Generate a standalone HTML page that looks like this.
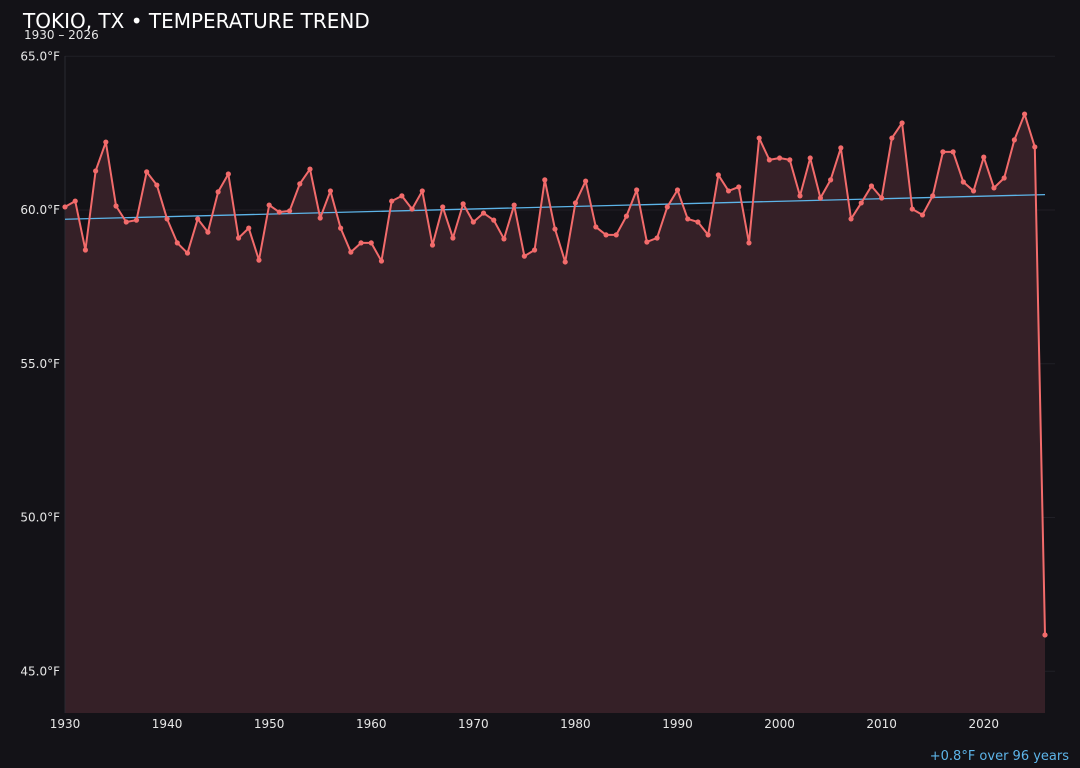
<!DOCTYPE html>
<html><head><meta charset="utf-8"><style>
html,body{margin:0;padding:0;background:#131217;}
svg{display:block;font-family:"DejaVu Sans","Liberation Sans",sans-serif;}
</style></head><body>
<svg id="chart" width="1080" height="768">
<rect width="1080" height="768" fill="#131217"/>
<text x="23" y="28" fill="#ffffff" font-size="20">TOKIO, TX • TEMPERATURE TREND</text>
<text x="24" y="39" fill="#e6e6e6" font-size="12">1930 – 2026</text>
<text x="1069" y="760" fill="#5db4e8" font-size="13" text-anchor="end">+0.8°F over 96 years</text>
<g id="grid"></g><g id="area"></g><g id="axes"></g><g id="marks"></g>
</svg>
<script>
const years = [];
for (let y = 1930; y <= 2026; y++) years.push(y);
const temps = [60.10,60.29,58.70,61.27,62.21,60.13,59.61,59.67,61.24,60.81,
59.71,58.93,58.60,59.71,59.28,60.59,61.17,59.09,59.41,58.37,
60.16,59.93,59.97,60.85,61.33,59.74,60.62,59.41,58.63,58.93,
58.93,58.34,60.29,60.46,60.03,60.62,58.86,60.10,59.09,60.20,
59.61,59.90,59.67,59.06,60.16,58.50,58.70,60.98,59.38,58.31,
60.23,60.94,59.45,59.19,59.19,59.80,60.65,58.96,59.09,60.10,
60.65,59.71,59.61,59.19,61.14,60.62,60.75,58.93,62.34,61.63,
61.69,61.63,60.46,61.69,60.39,60.98,62.02,59.71,60.23,60.78,
60.39,62.34,62.83,60.03,59.84,60.46,61.89,61.89,60.91,60.62,
61.72,60.72,61.04,62.28,63.12,62.05,46.18];
const yTicks = [45,50,55,60,65];
const xTicks = [1930,1940,1950,1960,1970,1980,1990,2000,2010,2020];
const trendStart = 59.7, trendEnd = 60.5;

const L=65,R=1055,T=56,B=713;
const X = v => 65 + (v-1930)*(1045-65)/96;
const Y = v => 210 - (v-60)*30.75;
const NS='http://www.w3.org/2000/svg';
function mk(tag, parent, attrs){const e=document.createElementNS(NS,tag);for(const k in attrs)e.setAttribute(k,attrs[k]);document.getElementById(parent).appendChild(e);return e;}

mk('line','axes',{x1:L,y1:T,x2:L,y2:B,stroke:'#2a2930','stroke-width':1});
for(const t of yTicks){
  const g=mk('line','grid',{x1:L,x2:R,y1:Y(t),y2:Y(t),stroke:'#201f26','stroke-width':1});
  
  
  const tx=mk('text','axes',{x:60,y:Y(t)+4,fill:'#e6e6e6','font-size':12,'text-anchor':'end'});
  tx.textContent=t.toFixed(1)+'°F';
  
  
}
for(const t of xTicks){
  const tx=mk('text','axes',{x:X(t),y:728,fill:'#e6e6e6','font-size':12,'text-anchor':'middle'});
  tx.textContent=t;
  
  
}
let pts=years.map((y,i)=>X(y)+','+Y(temps[i]));
const area=mk('polygon','area',{points:X(years[0])+','+B+' '+pts.join(' ')+' '+X(years[years.length-1])+','+B,fill:'#352027'});


const tr=mk('line','marks',{x1:X(years[0]),y1:Y(trendStart),x2:X(years[years.length-1]),y2:Y(trendEnd),stroke:'#5db4e8','stroke-width':1.3});


const ln=mk('polyline','marks',{points:pts.join(' '),fill:'none',stroke:'#f26b6b','stroke-width':2,'stroke-linejoin':'round'});


years.forEach((y,i)=>{
  const c=mk('circle','marks',{cx:X(y),cy:Y(temps[i]),r:2.6,fill:'#f26b6b'});
  
  
});
</script>
</body></html>
